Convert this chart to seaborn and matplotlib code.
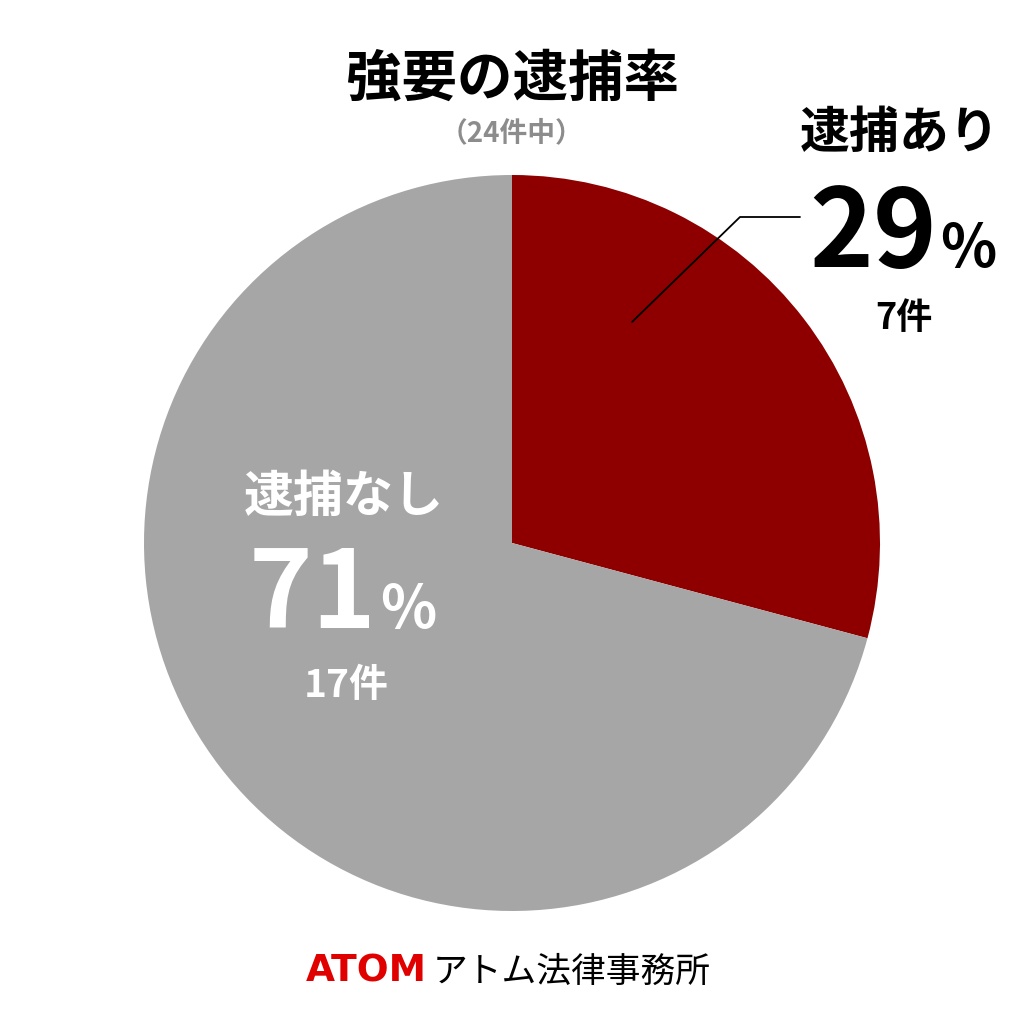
import matplotlib.pyplot as plt
import seaborn as sns

labels = ["逮捕あり", "逮捕なし"]
counts = [7, 17]
total = sum(counts)
title = "強要の逮捕率"
subtitle = "（{}件中）".format(total)

sns.set_theme(style="white")
plt.rcParams['font.family'] = ['Noto Sans CJK JP', 'DejaVu Sans']

colors = ["#8E0000", "#A6A6A6"]

fig = plt.figure(figsize=(10.24, 10.24), dpi=100)
ax = fig.add_axes([0, 0, 1, 1])


def py(y):
    # pixel row from top -> data y
    return 1024 - y


ax.pie(counts, colors=colors, startangle=90, counterclock=False,
       center=(512, py(543)), radius=368,
       wedgeprops=dict(linewidth=0))
ax.set_xlim(0, 1024)
ax.set_ylim(0, 1024)
ax.set_aspect('equal')
ax.axis('off')

pcts = [round(c / total * 100) for c in counts]

ax.text(512, py(80), title, ha='center', va='center', fontsize=40,
        fontweight='bold', color='black')
ax.text(512, py(133), subtitle, ha='center', va='center', fontsize=20,
        fontweight='bold', color='#8C8C8C')

# 逮捕あり (outside, with leader line)
ax.text(900, py(133), labels[0], ha='center', va='center', fontsize=36,
        fontweight='bold', color='black')
ax.text(937, py(267), str(pcts[0]), ha='right', va='baseline', fontsize=78,
        fontweight='bold', color='black')
ax.text(940, py(267), "%", ha='left', va='baseline', fontsize=42,
        fontweight='bold', color='black')
ax.text(904, py(318), "{}件".format(counts[0]), ha='center', va='center',
        fontsize=26, fontweight='bold', color='black')
ax.plot([632, 740, 800], [py(322), py(217), py(217)], color='black', lw=1.3)

# 逮捕なし (inside)
ax.text(377, py(628), str(pcts[1]), ha='right', va='baseline', fontsize=78,
        fontweight='bold', color='white')
ax.text(344, py(497), labels[1], ha='center', va='center', fontsize=36,
        fontweight='bold', color='white')
ax.text(380, py(628), "%", ha='left', va='baseline', fontsize=42,
        fontweight='bold', color='white')
ax.text(346, py(685), "{}件".format(counts[1]), ha='center', va='center',
        fontsize=28, fontweight='bold', color='white')

# footer
ax.text(427, py(972), "ATOM", ha='right', va='center', fontsize=27,
        fontweight='bold', family='DejaVu Sans', color='#E00000')
ax.text(433, py(972), "アトム法律事務所", ha='left', va='center', fontsize=25,
        color='black')

fig.savefig("out.png", dpi=100)
